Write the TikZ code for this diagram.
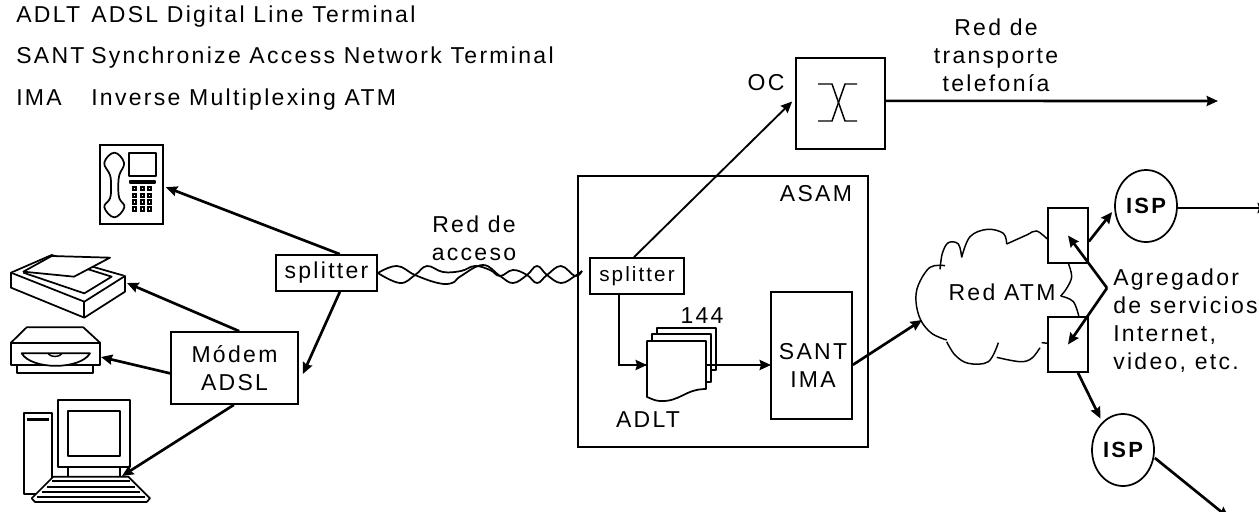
\documentclass[tikz,border=0pt]{standalone}
\usepackage{fontspec}
\setmainfont[LetterSpace=10]{Liberation Sans}
\usetikzlibrary{shapes.geometric, arrows.meta, positioning}

\begin{document}
\begin{tikzpicture}[
  x=0.75pt, y=-0.75pt,
  % Node styles
  block/.style={draw, line width=1.3pt, inner sep=0pt, align=center, fill=white},
  lbl/.style={inner sep=0pt, align=center, font=\fontsize{17.25}{21}\selectfont},
  legend/.style={inner sep=0pt, anchor=base west, font=\fontsize{17.25}{21}\selectfont},
  isp/.style={draw, ellipse, line width=1.3pt, inner sep=0pt, fill=white,
              minimum width=46.5pt, minimum height=54pt,
              font=\fontsize{16.5}{21}\selectfont\bfseries},
  icon/.style={line width=1.3pt, line join=round, fill=white},
  % Arrow styles
  arr/.style={-{Stealth[length=8.5pt, width=7.5pt, inset=1pt]}, line width=2pt},
  thinarr/.style={-{Stealth[length=8.5pt, width=7.5pt, inset=1pt]}, line width=1.4pt},
  wire/.style={line width=1.3pt, smooth, tension=0.7},
  cloudline/.style={line width=1.1pt, smooth, tension=0.6},
]
  \useasboundingbox (0,0) rectangle (1259,511);

  % ── Legend ──
  \node[legend] (l1a) at (16,22) {ADLT};
  \node[legend] (l1b) at (91,22) {ADSL Digital Line Terminal};
  \node[legend] (l2a) at (16,63) {SANT};
  \node[legend] (l2b) at (91,63) {Synchronize Access Network Terminal};
  \node[legend] (l3a) at (16,105) {IMA};
  \node[legend] (l3b) at (91,105) {Inverse Multiplexing ATM};

  % ── Terminal equipment (coordinates read at 3x) ──
  \node[draw, line width=1.3pt, inner sep=0pt, minimum width=47.25pt, minimum height=59.25pt] (phone) at (131.5,184.5) {};
  \begin{scope}[shift={(0,150)}, x=0.25pt, y=-0.25pt]
    % telephone
    \draw[icon] plot[smooth cycle, tension=0.7] coordinates {(343,8) (372,38) (358,75) (355,110) (358,145) (373,172) (343,202) (313,172) (330,145) (333,110) (330,75) (313,38)};
    \draw[icon] (387,8) rectangle (468,77);
    \draw[icon, line width=1.6pt] (390,92) rectangle (465,98);
    \foreach \i in {0,1,2}
      \foreach \j in {0,1,2,3}
        \draw[line width=1.5pt] ({399+22.5*\i},{110+20.5*\j}) rectangle ++(10,10);
    % scanner
    \draw[icon] (33,368) -- (155,315) -- (375,378) -- (375,425) -- (253,503) -- (33,413) -- cycle;
    \draw[icon] (33,368) -- (253,455) -- (375,378);
    \draw[icon] (253,455) -- (253,503);
    \draw[icon] (70,368) -- (253,430) -- (335,380) -- (265,358);
    \draw[icon] (155,318) -- (330,323) -- (222,380) -- (70,365) -- cycle;
    % disc drive
    \draw[icon] (50,645) rectangle (280,668);
    \draw[icon] (33,578) -- (80,532) -- (250,532) -- (300,578) -- (300,645) -- (33,645) -- cycle;
    \draw[icon] (33,578) -- (300,578);
    \draw[icon] (65,610) -- (270,610) .. controls (240,660) and (95,660) .. (65,610) -- cycle;
    \draw[line width=1.1pt] (145,612) .. controls (155,622) and (175,622) .. (185,612);
    % computer
    \draw[icon] (72,790) rectangle (155,1032);
    \draw[line width=1.9pt] (80,808) -- (148,808);
    \draw[icon] (175,750) rectangle (390,950);
    \draw[icon] (205,782) rectangle (360,918);
    \draw[icon] (205,950) rectangle (360,980);
    \draw[icon] (160,980) -- (385,980) -- (450,1045) -- (440,1056) -- (105,1056) -- (95,1045) -- cycle;
    \draw[line width=1.7pt] (155,993) -- (390,993);
    \draw[line width=1.7pt] (140,1010) -- (405,1010);
    \draw[line width=1.7pt] (125,1025) -- (420,1025);
    \draw[line width=1.7pt] (112,1040) -- (435,1040);
  \end{scope}
  \coordinate (scanner) at (127,283);
  \coordinate (drive) at (101,357);
  \coordinate (computer) at (122,476);

  % ── Access side ──
  \node[block, lbl, draw, fill=white, minimum width=75.75pt, minimum height=27pt] (splitA) at (326.5,273) {splitter};
  \node[block, lbl, draw, fill=white, minimum width=95.25pt, minimum height=54pt] (modem) at (234.5,368) {Módem\\ADSL};
  \node[lbl] (acceso) at (474,238) {Red de\\acceso};

  % ── ASAM ──
  \node[block, line width=1.7pt, fill=none, minimum width=217.5pt, minimum height=203.25pt] (asam) at (723,311.5) {};
  \node[lbl] (asamlbl) at (816,194) {ASAM};
  \node[block, inner sep=0pt, minimum width=70.5pt, minimum height=27pt,
        font=\fontsize{15.5}{18}\selectfont] (splitB) at (637,276) {splitter};
  \node[block, minimum width=60.75pt, minimum height=95.25pt] (sant) at (811.5,355.5) {};
  \node[lbl] (santlbl) at (813,365) {SANT\\IMA};
  \coordinate (santW) at (771,365);
  \coordinate (adltW) at (647,365);
  \coordinate (adltE) at (705,365);
  \foreach \dx/\dy/\dr in {10/-13/-12, 5/-7/-6} {
    \draw[icon] (647+\dx,341+\dy) -- (706+\dx,341+\dy) -- (706+\dx,389+\dy+\dr+6) -- (647+\dx,389+\dy+\dr+6) -- cycle;
  }
  \draw[icon] (647,341) -- (706,341) -- (706,389) .. controls (685,389) and (680,402) .. (660,401) .. controls (655,401) and (650,398) .. (647,397) -- cycle;
  \node[lbl] (num) at (702,316) {144};
  \node[lbl] (adlt) at (648,420) {ADLT};

  % ── OC ──
  \node[block, minimum width=66.75pt, minimum height=68.25pt] (oc) at (840.5,103.5) {};
  \node[lbl] (oclbl) at (766,83) {OC};
  \draw[line width=1.1pt] (818,84) -- (832,84) -- (845,121) -- (857,121);
  \draw[line width=1.1pt] (818,121) -- (832,121) -- (845,84) -- (857,84);
  \coordinate (transEnd) at (1218,101);
  \node[lbl] (trans) at (996,55) {Red de\\transporte\\telefonía};

  % ── Red ATM cloud ──
  \begin{scope}[shift={(890,170)}, x=0.25pt, y=-0.25pt]
    \draw[cloudline] plot coordinates {(475,210) (440,183) (410,195) (350,222)};
    \draw[cloudline] plot coordinates {(350,222) (340,190) (292,178) (240,200) (215,262)};
    \draw[cloudline] plot coordinates {(215,262) (205,222) (175,218) (157,250) (150,298)};
    \draw[cloudline] plot coordinates {(165,287) (120,292) (85,345) (78,395) (92,450) (125,490) (170,510)};
    \draw[cloudline] plot coordinates {(170,515) (195,555) (235,580) (295,575) (325,518)};
    \draw[cloudline] plot coordinates {(320,562) (390,575) (425,565) (450,533)};
    \draw[cloudline] plot coordinates {(455,518) (475,520)};
    \draw[cloudline] plot coordinates {(535,280) (545,320) (530,355) (512,378)};
    \draw[cloudline] plot coordinates {(512,378) (550,395) (568,445)};
  \end{scope}
  \node[lbl] (atm) at (1002,292) {Red ATM};

  % ── Aggregator and ISPs ──
  \node[block, minimum width=30pt, minimum height=41.25pt] (agrT) at (1068,235.5) {};
  \node[block, minimum width=30pt, minimum height=41.25pt] (agrB) at (1068,344.5) {};
  \node[isp] (ispT) at (1146,206) {ISP};
  \node[isp] (ispB) at (1123,450) {ISP};
  \coordinate (aggV) at (1107,288);
  \node[lbl, align=left, anchor=west] (agg) at (1113,321) {Agregador\\de servicios\\Internet,\\video, etc.};
  \coordinate (ispTEnd) at (1269,208);
  \coordinate (ispBEnd) at (1229,518);
  \coordinate (cloudW) at (922,320);

  % ── Twisted pair ──
  \coordinate (wvE) at (582,271);
  \draw[wire] plot coordinates {(splitA.east) (397,266) (415,275) (438,283) (452,283) (461,276) (483,265) (500,276) (513,283) (527,275) (537,266) (547,275) (561,283) (575,276) (wvE)};
  \draw[wire] plot coordinates {(splitA.east) (400,283) (415,275) (427,266) (443,272) (461,271) (475,266) (490,270) (500,276) (513,270) (527,275) (537,283) (547,275) (561,266) (575,276) (wvE)};

  % ── Arrows: left side ──
  \draw[arr] ([xshift=10pt]splitA.north) -- ([shift={(1.5pt,-2pt)}]phone.east);
  \draw[arr] ([xshift=10pt]splitA.south) -- ([shift={(3pt,-4.5pt)}]modem.east);
  \draw[arr] ([xshift=3.5pt]modem.north) -- (scanner);
  \draw[arr] ([yshift=-4pt]modem.west) -- (drive);
  \draw[arr] ([xshift=-0.5pt]modem.south) -- (computer);

  % ── Arrows: ASAM ──
  \draw[thinarr] ([xshift=-2.25pt]splitB.north) -- ([shift={(-2.25pt,1.5pt)}]oc.west);
  \draw[line width=1.5pt] ([xshift=-13.5pt]splitB.south) |- (adltW);
  \draw[arr] ([xshift=-13.5pt]splitB.south |- adltW) -- (adltW);
  \draw[arr] (adltE) -- (santW);
  \draw[arr] ([yshift=-7pt]sant.east) -- (cloudW);
  \draw[arr] ([yshift=2pt]oc.east) -- (transEnd);

  % ── Arrows: aggregator ──
  \draw[arr] ([yshift=-4.5pt]agrT.east) -- ([shift={(-1.5pt,-4.5pt)}]ispT.west);
  \draw[arr] ([xshift=7.5pt]agrB.south) -- ([yshift=4pt]ispB.north west);
  \draw[arr] (aggV) -- (agrT.center);
  \draw[arr] (aggV) -- (agrB.center);
  \draw[arr] ([yshift=-1.5pt]ispT.east) -- (ispTEnd);
  \draw[arr] ([yshift=-6pt]ispB.east) -- (ispBEnd);
\end{tikzpicture}
\end{document}
